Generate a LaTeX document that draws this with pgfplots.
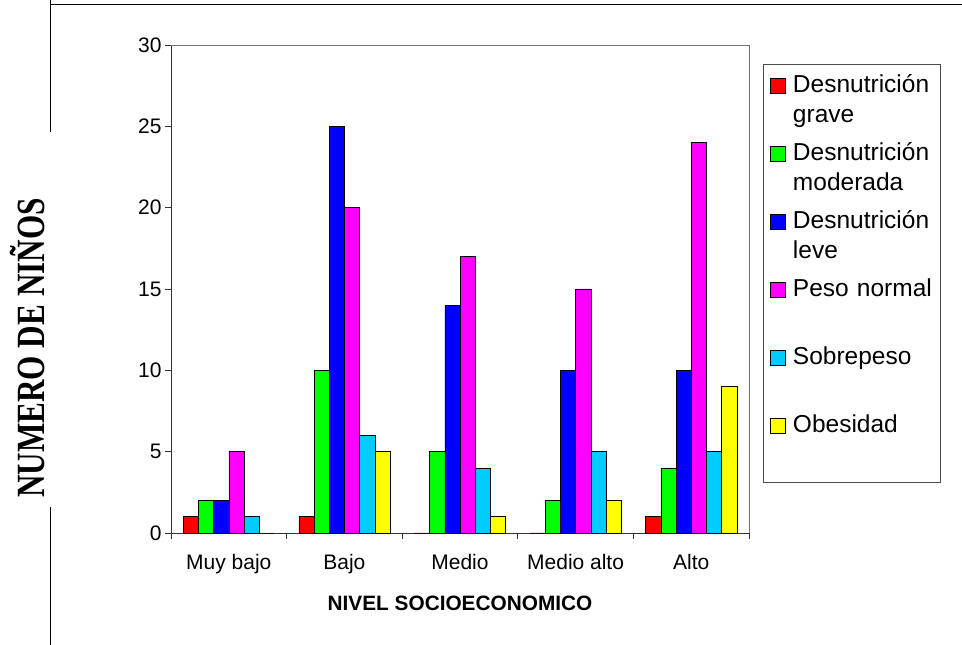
\documentclass[border=0pt]{standalone}
\usepackage{pgfplots}
\pgfplotsset{compat=1.18}
\usepackage{pgfplotstable}
\usepackage{fontspec}
\setmainfont{Liberation Sans}
\newfontfamily\serifbf{Liberation Serif}
\definecolor{cDG}{HTML}{FF0000}
\definecolor{cDM}{HTML}{00FF00}
\definecolor{cDL}{HTML}{0000FF}
\definecolor{cPN}{HTML}{FF00FF}
\definecolor{cSP}{HTML}{00CCFF}
\definecolor{cOB}{HTML}{FFFF00}
\newcommand{\legfont}{\fontsize{24.5}{30}\selectfont\hyphenpenalty=10000\relax}
\pgfplotstableread{
x DG DM DL PN SP OB
0 1 2 2 5 1 0
1 1 10 25 20 6 5
2 0 5 14 17 4 1
3 0 2 10 15 5 2
4 1 4 10 24 5 9
}\datatable
\begin{document}
\begin{tikzpicture}[x=1pt,y=1pt]
\path[use as bounding box] (0,0) rectangle (962,645);
% outer frame
\draw[black,line width=1pt] (50.5,645) -- (50.5,513);
\draw[black,line width=1pt] (50.5,138) -- (50.5,0);
\draw[black,line width=1pt] (50.5,640) -- (962,640);
% y label
\node[anchor=base,rotate=90,inner sep=0pt] at (45,297)
  {\scalebox{0.78}[1]{\serifbf\fontsize{40}{44}\selectfont\bfseries NUMERO DE NIÑOS}};
\begin{axis}[
  at={(171pt,112pt)}, anchor=south west,
  scale only axis, width=578pt, height=488pt,
  ybar=0pt, bar width=15.2pt,
  xmin=-0.5, xmax=4.5, ymin=0, ymax=30,
  xtick={0,1,2,3,4},
  xticklabels={Muy bajo,Bajo,Medio,Medio alto,Alto},
  minor xtick={-0.5,0.5,1.5,2.5,3.5,4.5},
  ytick={0,5,...,30},
  tick align=outside,
  major tick length=6pt, minor tick length=6pt,
  major x tick style={draw=none},
  ytick pos=left, xtick pos=bottom,
  axis x line*=bottom, axis y line*=left,
  axis line style={draw=black!80, line width=0.9pt},
  tick style={draw=black!80, line width=0.8pt},
  /pgf/number format/assume math mode=true,
  tick label style={font=\fontsize{21}{25}\selectfont},
  xticklabel style={anchor=base, yshift=-31pt},
  xlabel={\textbf{NIVEL SOCIOECONOMICO}},
  xlabel style={font=\fontsize{20.8}{24}\selectfont, anchor=base, at={(0.5,0)}, yshift=-78pt},
  legend style={at={(1.0242,0.9611)}, anchor=north west, draw=black!70, line width=0.8pt,
    inner xsep=7pt, inner ysep=5pt, column sep=7pt, row sep=0pt,
    nodes={inner sep=0pt, anchor=base west, text width=140pt, align=left,
      text height=23pt, text depth=45pt, font=\legfont}},
  legend image code/.code={\draw[#1,draw=black,line width=0.6pt] (0pt,-1pt) rectangle (15pt,14pt);},
  clip=false,
]
\addplot[fill=cDG, draw=black, line width=0.6pt] table[x=x,y=DG] {\datatable};
\addplot[fill=cDM, draw=black, line width=0.6pt] table[x=x,y=DM] {\datatable};
\addplot[fill=cDL, draw=black, line width=0.6pt] table[x=x,y=DL] {\datatable};
\addplot[fill=cPN, draw=black, line width=0.6pt] table[x=x,y=PN] {\datatable};
\addplot[fill=cSP, draw=black, line width=0.6pt] table[x=x,y=SP] {\datatable};
\addplot[fill=cOB, draw=black, line width=0.6pt] table[x=x,y=OB] {\datatable};
\legend{Desnutrición\\grave, Desnutrición\\moderada, Desnutrición\\leve, Peso normal, Sobrepeso, Obesidad}
\draw[black!55, line width=0.9pt] (rel axis cs:0,1) -- (rel axis cs:1,1) -- (rel axis cs:1,0);
\end{axis}
\end{tikzpicture}
\end{document}
